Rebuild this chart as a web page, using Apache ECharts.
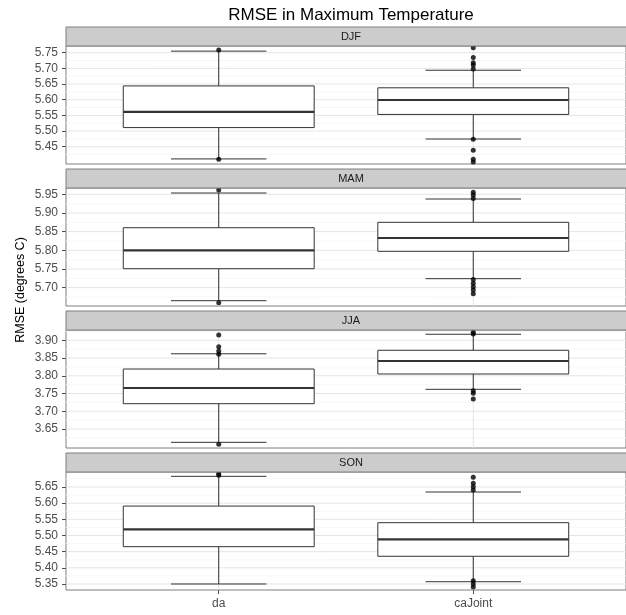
<!DOCTYPE html>
<html>
<head>
<meta charset="utf-8">
<script src="https://cdn.jsdelivr.net/npm/echarts@6/dist/echarts.min.js"></script>
<style>html,body{margin:0;padding:0;background:#fff;}#chart{width:626px;height:615px;}</style>
</head>
<body>
<div id="chart"></div>
<script>
// ---------- data ----------
const chartTitle = 'RMSE in Maximum Temperature';
const yTitle = 'RMSE (degrees C)';
const seasons = ['DJF', 'MAM', 'JJA', 'SON'];
const methods = ['da', 'caJoint'];

// box stats per method: [lower whisker, Q1, median, Q3, upper whisker]
const djfStats = [[5.411, 5.511, 5.561, 5.644, 5.755], [5.4745, 5.553, 5.599, 5.638, 5.694]];
const mamStats = [[5.665, 5.7507, 5.800, 5.8605, 5.9535], [5.724, 5.7973, 5.833, 5.875, 5.9374]];
const jjaStats = [[3.6124, 3.7213, 3.7655, 3.819, 3.862], [3.7618, 3.805, 3.8416, 3.8718, 3.917]];
const sonStats = [[5.350, 5.4654, 5.519, 5.591, 5.683], [5.357, 5.4357, 5.4882, 5.5396, 5.6345]];

// outliers per method
const djfOutliers = [[5.759, 5.410], [5.766, 5.735, 5.718, 5.711, 5.698, 5.474, 5.439, 5.410, 5.401]];
const mamOutliers = [[5.9615, 5.6596], [5.9553, 5.948, 5.939, 5.722, 5.7116, 5.7025, 5.6936, 5.6837]];
const jjaOutliers = [[3.915, 3.882, 3.870, 3.8605, 3.6068], [3.9226, 3.918, 3.758, 3.7506, 3.7345]];
const sonOutliers = [[5.692, 5.686], [5.680, 5.6614, 5.651, 5.6407, 5.360, 5.350, 5.3407]];

// y tick labels per panel
const djfTicks = [5.45, 5.50, 5.55, 5.60, 5.65, 5.70, 5.75];
const mamTicks = [5.70, 5.75, 5.80, 5.85, 5.90, 5.95];
const jjaTicks = [3.65, 3.70, 3.75, 3.80, 3.85, 3.90];
const sonTicks = [5.35, 5.40, 5.45, 5.50, 5.55, 5.60, 5.65];

// visible y range per panel
const djfRange = [5.3948, 5.7714];
const mamRange = [5.6508, 5.9669];
const jjaRange = [3.5964, 3.9290];
const sonRange = [5.3314, 5.6964];

// ---------- layout ----------
const panelStats = [djfStats, mamStats, jjaStats, sonStats];
const panelOutliers = [djfOutliers, mamOutliers, jjaOutliers, sonOutliers];
const panelTicks = [djfTicks, mamTicks, jjaTicks, sonTicks];
const panelRanges = [djfRange, mamRange, jjaRange, sonRange];

const LEFT = 66, WIDTH = 570, TOPS = [46, 188, 330, 472], HEIGHT = 118, STRIP = 19;
const TXT = '#4d4d4d', FONT = 'Liberation Sans, Arial, Helvetica, sans-serif';

const grids = [], xAxes = [], yAxes = [], series = [], graphics = [];

function minorTicks(ticks, range) {
  const step = 0.05, out = [];
  const lo = ticks[0] - step / 2, hi = ticks[ticks.length - 1] + step / 2;
  for (let k = 0; ; k++) {
    const v = +(lo + k * step).toFixed(4);
    if (v > hi + 1e-9) break;
    if (v >= range[0] && v <= range[1]) out.push(v);
  }
  return out;
}

panelStats.forEach((stats, i) => {
  const last = i === panelStats.length - 1;
  grids.push({ left: LEFT, top: TOPS[i], width: WIDTH, height: HEIGHT, show: true,
    backgroundColor: '#ffffff', borderColor: '#7f7f7f', borderWidth: 1 });
  xAxes.push({ type: 'value', gridIndex: i, min: 0.4, max: 2.6,
    axisLine: { show: false }, splitLine: { show: false },
    axisTick: { show: last, customValues: [1, 2], length: 4, inside: false, lineStyle: { color: TXT } },
    axisLabel: { show: last, customValues: [1, 2], margin: 8, fontSize: 12, color: TXT, fontFamily: FONT,
      formatter: v => methods[Math.round(v) - 1] || '' } });
  const ticks = panelTicks[i];
  yAxes.push({ type: 'value', gridIndex: i, min: panelRanges[i][0], max: panelRanges[i][1],
    axisLine: { show: false }, splitLine: { show: false },
    axisTick: { show: true, customValues: ticks, length: 4, lineStyle: { color: TXT } },
    axisLabel: { customValues: ticks, margin: 8, fontSize: 12, color: TXT, fontFamily: FONT,
      formatter: v => v.toFixed(2) } });

  // grid lines: [kind, value] kind 0 = major horizontal, 1 = minor horizontal, 2 = vertical
  const gl = [];
  minorTicks(ticks, panelRanges[i]).forEach(v => gl.push([1, v]));
  ticks.forEach(v => gl.push([0, v]));
  methods.forEach((m, j) => gl.push([2, j + 1]));
  series.push({ type: 'custom', xAxisIndex: i, yAxisIndex: i, z: 1, silent: true,
    encode: { x: -1, y: -1 }, data: gl,
    renderItem: (params, api) => {
      const cs = params.coordSys, kind = api.value(0), v = api.value(1);
      if (kind === 2) {
        const p = api.coord([v, panelRanges[i][0]]);
        return { type: 'line', shape: { x1: p[0], y1: cs.y, x2: p[0], y2: cs.y + cs.height },
          style: { stroke: '#e5e5e5', lineWidth: 1 } };
      }
      const p = api.coord([1, v]);
      return { type: 'line', shape: { x1: cs.x, y1: p[1], x2: cs.x + cs.width, y2: p[1] },
        style: { stroke: kind === 0 ? '#e5e5e5' : '#f7f7f7', lineWidth: 1 } };
    } });

  // boxes
  const boxData = stats.map((s, j) => [j + 1].concat(s));
  series.push({ type: 'custom', xAxisIndex: i, yAxisIndex: i, z: 3, silent: true,
    encode: { x: 0, y: [1, 5] }, data: boxData,
    renderItem: (params, api) => {
      const x = api.value(0), lo = api.value(1), q1 = api.value(2), md = api.value(3), q3 = api.value(4), hi = api.value(5);
      const c = (a, b) => api.coord([a, b]);
      const ln = (a, b, w) => ({ type: 'line', shape: { x1: a[0], y1: a[1], x2: b[0], y2: b[1] },
        style: { stroke: '#333333', lineWidth: w || 1 } });
      const tl = c(x - 0.375, q3), br = c(x + 0.375, q1);
      return { type: 'group', children: [
        ln(c(x, q3), c(x, hi)),
        ln(c(x, lo), c(x, q1)),
        ln(c(x - 0.1875, hi), c(x + 0.1875, hi)),
        ln(c(x - 0.1875, lo), c(x + 0.1875, lo)),
        { type: 'rect', shape: { x: tl[0], y: tl[1], width: br[0] - tl[0], height: br[1] - tl[1] },
          style: { fill: '#ffffff', stroke: '#333333', lineWidth: 1 } },
        ln(c(x - 0.375, md), c(x + 0.375, md), 2.2)
      ] };
    } });

  // outliers
  const pts = [];
  panelOutliers[i].forEach((arr, j) => arr.forEach(v => pts.push([j + 1, v])));
  series.push({ type: 'scatter', xAxisIndex: i, yAxisIndex: i, z: 5, clip: false, silent: true,
    symbol: 'circle', symbolSize: 5, itemStyle: { color: '#000000' }, data: pts });

  // strip
  graphics.push({ type: 'rect', shape: { x: LEFT, y: TOPS[i] - STRIP, width: WIDTH, height: STRIP },
    style: { fill: '#cccccc', stroke: '#7f7f7f', lineWidth: 1 }, z: 10 });
  graphics.push({ type: 'text', x: LEFT + WIDTH / 2, y: TOPS[i] - STRIP / 2, z: 11,
    style: { text: seasons[i], align: 'center', verticalAlign: 'middle', fontSize: 11,
      fontFamily: FONT, fill: '#1a1a1a' } });
});

graphics.push({ type: 'text', x: LEFT + WIDTH / 2, y: 15, z: 11,
  style: { text: chartTitle, align: 'center', verticalAlign: 'middle', fontSize: 17, fontFamily: FONT, fill: '#000' } });
graphics.push({ type: 'text', x: 21, y: 290, rotation: Math.PI / 2, z: 11,
  style: { text: yTitle, align: 'center', verticalAlign: 'middle', fontSize: 12.5, fontFamily: FONT, fill: '#000' } });

const chart = echarts.init(document.getElementById('chart'), null, { renderer: 'canvas' });
chart.setOption({
  animation: false,
  backgroundColor: '#ffffff',
  grid: grids, xAxis: xAxes, yAxis: yAxes, series: series, graphic: graphics
});
</script>
</body>
</html>
